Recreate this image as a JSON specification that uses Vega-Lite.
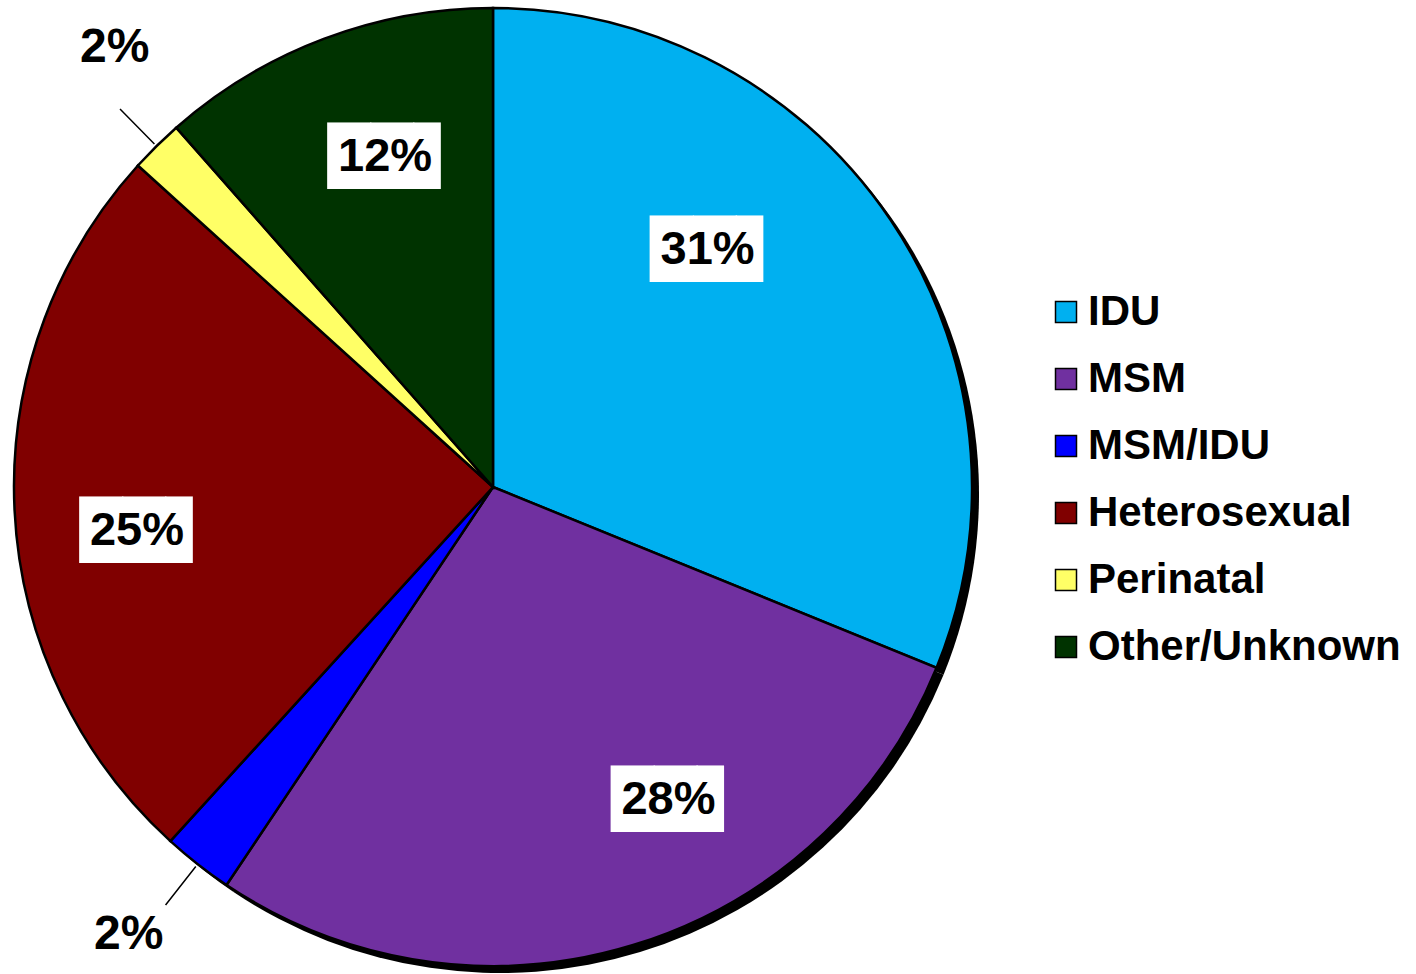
{
  "$schema": "https://vega.github.io/schema/vega-lite/v6.json",
  "width": 986,
  "height": 974,
  "autosize": {"type": "none"},
  "padding": {"left": 0, "top": 0, "right": 430, "bottom": 0},
  "background": "white",
  "config": {"view": {"stroke": null}},
  "data": {"values": [
    {"cat": "IDU", "v": 31.16, "lab": "31%", "ord": 1},
    {"cat": "MSM", "v": 28.23, "lab": "28%", "ord": 2},
    {"cat": "MSM/IDU", "v": 2.37, "lab": "2%", "ord": 3},
    {"cat": "Heterosexual", "v": 24.95, "lab": "25%", "ord": 4},
    {"cat": "Perinatal", "v": 1.79, "lab": "2%", "ord": 5},
    {"cat": "Other/Unknown", "v": 11.5, "lab": "12%", "ord": 6}
  ]},
  "encoding": {
    "theta": {"field": "v", "type": "quantitative", "stack": true},
    "order": {"field": "ord", "type": "quantitative", "sort": "ascending"}
  },
  "layer": [
    {"mark": {"type": "arc", "radius": 479, "fill": "black", "x": {"expr": "width/2+7"}, "y": {"expr": "height/2+7"}}},
    {"mark": {"type": "arc", "radius": 479, "stroke": "black", "strokeWidth": 2.5},
     "encoding": {"color": {"field": "cat", "type": "nominal",
       "scale": {"domain": ["IDU", "MSM", "MSM/IDU", "Heterosexual", "Perinatal", "Other/Unknown"],
                 "range": ["#00B0F0", "#7030A0", "#0000FF", "#800000", "#FFFF66", "#003300"]},
       "legend": {"title": null, "orient": "none", "legendX": 1045, "legendY": 291, "symbolType": "square", "symbolSize": 441,
         "symbolStrokeColor": "black", "symbolStrokeWidth": 1.5, "labelFont": "Liberation Sans", "labelFontWeight": "bold",
         "labelFontSize": 42, "labelColor": "black", "labelOffset": 1, "rowPadding": 25, "padding": 0, "labelLimit": 0}}}},
    {"mark": {"type": "arc", "radius": 531, "radius2": 482, "padAngle": 3, "fill": "transparent", "stroke": "black", "strokeWidth": 1.5},
     "encoding": {"strokeOpacity": {"condition": {"test": "datum.cat === 'Perinatal' || datum.cat === 'MSM/IDU'", "value": 1}, "value": 0}}},
    {"mark": {"type": "text", "radius": 340, "dx": -125.1, "dy": -46.3, "font": "DejaVu Sans", "fontSize": 56, "fill": "white", "align": "left", "baseline": "middle", "text": "██▋"},
     "encoding": {"opacity": {"condition": {"test": "datum.cat === 'IDU'", "value": 1}, "value": 0}}},
    {"mark": {"type": "text", "radius": 340, "dx": 18.5, "dy": -11, "font": "DejaVu Sans", "fontSize": 56, "fill": "white", "align": "left", "baseline": "middle", "text": "██▋"},
     "encoding": {"opacity": {"condition": {"test": "datum.cat === 'MSM'", "value": 1}, "value": 0}}},
    {"mark": {"type": "text", "radius": 340, "dx": -73.9, "dy": 28.6, "font": "DejaVu Sans", "fontSize": 56, "fill": "white", "align": "left", "baseline": "middle", "text": "██▋"},
     "encoding": {"opacity": {"condition": {"test": "datum.cat === 'Heterosexual'", "value": 1}, "value": 0}}},
    {"mark": {"type": "text", "radius": 340, "dx": -45.3, "dy": -11, "font": "DejaVu Sans", "fontSize": 56, "fill": "white", "align": "left", "baseline": "middle", "text": "██▋"},
     "encoding": {"opacity": {"condition": {"test": "datum.cat === 'Other/Unknown'", "value": 1}, "value": 0}}},
    {"mark": {"type": "text", "radius": 340, "dx": -67.6, "dy": -47.3, "font": "Liberation Sans", "fontWeight": "bold", "fontSize": 47, "fill": "black", "align": "center", "baseline": "middle"},
     "encoding": {"text": {"field": "lab"}, "opacity": {"condition": {"test": "datum.cat === 'IDU'", "value": 1}, "value": 0}}},
    {"mark": {"type": "text", "radius": 340, "dx": 76, "dy": -12, "font": "Liberation Sans", "fontWeight": "bold", "fontSize": 47, "fill": "black", "align": "center", "baseline": "middle"},
     "encoding": {"text": {"field": "lab"}, "opacity": {"condition": {"test": "datum.cat === 'MSM'", "value": 1}, "value": 0}}},
    {"mark": {"type": "text", "radius": 340, "dx": -16.4, "dy": 27.6, "font": "Liberation Sans", "fontWeight": "bold", "fontSize": 47, "fill": "black", "align": "center", "baseline": "middle"},
     "encoding": {"text": {"field": "lab"}, "opacity": {"condition": {"test": "datum.cat === 'Heterosexual'", "value": 1}, "value": 0}}},
    {"mark": {"type": "text", "radius": 340, "dx": 12.2, "dy": -12, "font": "Liberation Sans", "fontWeight": "bold", "fontSize": 47, "fill": "black", "align": "center", "baseline": "middle"},
     "encoding": {"text": {"field": "lab"}, "opacity": {"condition": {"test": "datum.cat === 'Other/Unknown'", "value": 1}, "value": 0}}},
    {"mark": {"type": "text", "radius": 560, "dx": 15, "dy": -40, "font": "Liberation Sans", "fontWeight": "bold", "fontSize": 48, "fill": "black", "align": "center", "baseline": "middle"},
     "encoding": {"text": {"field": "lab"}, "opacity": {"condition": {"test": "datum.cat === 'Perinatal'", "value": 1}, "value": 0}}},
    {"mark": {"type": "text", "radius": 560, "dx": -19, "dy": 7, "font": "Liberation Sans", "fontWeight": "bold", "fontSize": 48, "fill": "black", "align": "center", "baseline": "middle"},
     "encoding": {"text": {"field": "lab"}, "opacity": {"condition": {"test": "datum.cat === 'MSM/IDU'", "value": 1}, "value": 0}}}
  ]
}
